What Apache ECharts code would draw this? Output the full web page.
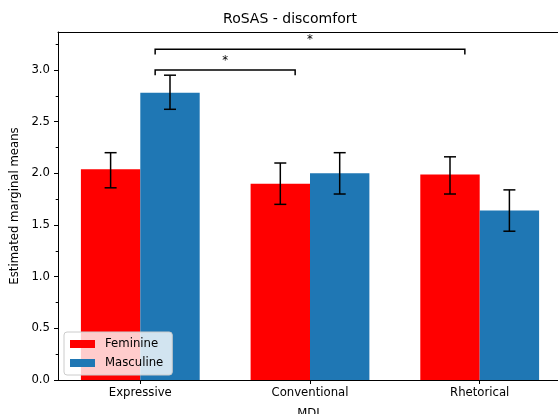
<!DOCTYPE html>
<html>
<head>
<meta charset="utf-8">
<script src="https://cdn.jsdelivr.net/npm/echarts@6/dist/echarts.min.js"></script>
<style>
html,body{margin:0;padding:0;background:#fff;}
#chart{width:558px;height:414px;}
</style>
</head>
<body>
<div id="chart"></div>
<script>
const categories = ['Expressive', 'Conventional', 'Rhetorical'];
const feminine = [2.04, 1.90, 1.99];
const masculine = [2.78, 2.00, 1.64];
const feminineLow = [1.86, 1.70, 1.80];
const feminineHigh = [2.20, 2.10, 2.16];
const masculineLow = [2.62, 1.80, 1.44];
const masculineHigh = [2.95, 2.20, 1.84];
const yTicks = [0, 0.5, 1.0, 1.5, 2.0, 2.5, 3.0];
const yMinorTicks = [0.25, 0.75, 1.25, 1.75, 2.25, 2.75, 3.25];
const xTicks = [0, 1, 2];
const bracketStart = [0.0875, 0.0875];
const bracketEnd = [0.9125, 1.9125];
const bracketY = [3.0, 3.2];
const bracketLabels = ['*', '*'];

const FONT = 'DejaVu Sans';
const BAR_W = 0.35;

function barSeries(name, values, color, offL, offR) {
  return {
    type: 'custom', name: name,
    itemStyle: { color: color },
    data: values.map((v, i) => [i, v]),
    renderItem: function (params, api) {
      const x = api.value(0), y = api.value(1);
      const p0 = api.coord([x + offL, 0]);
      const p1 = api.coord([x + offR, y]);
      return { type: 'rect', shape: { x: p0[0], y: p1[1], width: p1[0] - p0[0], height: p0[1] - p1[1] },
               style: { fill: color } };
    }
  };
}

function errSeries(low, high, off) {
  return {
    type: 'custom', silent: true, z: 3,
    data: low.map((l, i) => [i + off, l, high[i]]),
    renderItem: function (params, api) {
      const x = api.value(0);
      const pl = api.coord([x, api.value(1)]);
      const ph = api.coord([x, api.value(2)]);
      const st = { stroke: '#000', lineWidth: 1.5, fill: null };
      return { type: 'group', children: [
        { type: 'line', shape: { x1: pl[0], y1: pl[1], x2: ph[0], y2: ph[1] }, style: st },
        { type: 'line', shape: { x1: pl[0] - 6, y1: pl[1], x2: pl[0] + 6, y2: pl[1] }, style: st },
        { type: 'line', shape: { x1: ph[0] - 6, y1: ph[1], x2: ph[0] + 6, y2: ph[1] }, style: st }
      ]};
    }
  };
}

const chart = echarts.init(document.getElementById('chart'), null, { renderer: 'canvas' });
chart.setOption({
  animation: false,
  backgroundColor: '#fff',
  textStyle: { fontFamily: FONT },
  graphic: [{
    type: 'text', x: 290, y: 19.5,
    style: { text: 'RoSAS - discomfort', fontSize: 14, fontFamily: FONT, fill: '#000',
             textAlign: 'center', textVerticalAlign: 'middle' }
  }],
  grid: { left: 58, top: 32, width: 504, height: 348, show: false,
          containLabel: false, outerBoundsMode: 'none' },
  legend: {
    data: ['Feminine', 'Masculine'], orient: 'vertical', left: 64, top: 332,
    icon: 'rect', itemWidth: 25, itemHeight: 8, itemGap: 7,
    backgroundColor: 'rgba(255,255,255,0.8)', borderColor: '#cccccc', borderWidth: 1, borderRadius: 3,
    padding: [6, 9, 6, 6],
    textStyle: { fontSize: 11.7, color: '#000', fontFamily: FONT, padding: [0, 0, 0, 5] }
  },
  xAxis: [{
    type: 'value', min: -0.485, max: 2.485,
    name: 'MDL', nameLocation: 'middle', nameGap: 28,
    nameTextStyle: { fontSize: 11.7, color: '#000', fontFamily: FONT },
    axisLine: { show: true, onZero: false, lineStyle: { color: '#000', width: 1 } },
    axisTick: { show: true, length: 4, customValues: xTicks, lineStyle: { color: '#000' } },
    axisLabel: { customValues: xTicks, margin: 7, fontSize: 11.7, color: '#000', fontFamily: FONT,
                 formatter: v => categories[Math.round(v)] },
    splitLine: { show: false }
  }, {
    type: 'value', min: -0.485, max: 2.485, position: 'top',
    axisLine: { show: true, onZero: false, lineStyle: { color: '#000', width: 1 } },
    axisTick: { show: false }, axisLabel: { show: false }, splitLine: { show: false }
  }],
  yAxis: [{
    type: 'value', min: 0, max: 3.368,
    name: 'Estimated marginal means', nameLocation: 'middle', nameGap: 31, nameRotate: 90,
    nameTextStyle: { fontSize: 11.7, color: '#000', fontFamily: FONT },
    axisLine: { show: true, onZero: false, lineStyle: { color: '#000', width: 1 } },
    axisTick: { show: true, length: 4, customValues: yTicks, lineStyle: { color: '#000' } },
    axisLabel: { customValues: yTicks, margin: 8, fontSize: 11.7, color: '#000', fontFamily: FONT,
                 formatter: v => v.toFixed(1) },
    splitLine: { show: false }
  }, {
    type: 'value', min: 0, max: 3.368, position: 'left', offset: 0,
    axisLine: { show: false, onZero: false },
    axisTick: { show: true, length: 2.3, customValues: yMinorTicks, lineStyle: { color: '#000' } },
    axisLabel: { show: false },
    splitLine: { show: false }
  }],
  series: [
    barSeries('Feminine', feminine, '#ff0000', -BAR_W, 0),
    barSeries('Masculine', masculine, '#1f77b4', 0, BAR_W),
    errSeries(feminineLow, feminineHigh, -BAR_W / 2),
    errSeries(masculineLow, masculineHigh, BAR_W / 2),
    {
      type: 'custom', silent: true, z: 3,
      data: bracketY.map((y, i) => [bracketStart[i], bracketEnd[i], y, i]),
      renderItem: function (params, api) {
        const x1 = api.value(0), x2 = api.value(1), y = api.value(2);
        const a = api.coord([x1, y - 0.05]);
        const b = api.coord([x1, y]);
        const c = api.coord([x2, y]);
        const d = api.coord([x2, y - 0.05]);
        return { type: 'group', children: [
          { type: 'polyline', shape: { points: [a, b, c, d] },
            style: { stroke: '#000', lineWidth: 1.5, fill: null } },
          { type: 'text', x: (b[0] + c[0]) / 2, y: b[1] - 3.5,
            style: { text: bracketLabels[api.value(3)], fontSize: 11.7, fontFamily: FONT, fill: '#000',
                     textAlign: 'center', textVerticalAlign: 'bottom' } }
        ]};
      }
    }
  ]
});
</script>
</body>
</html>
